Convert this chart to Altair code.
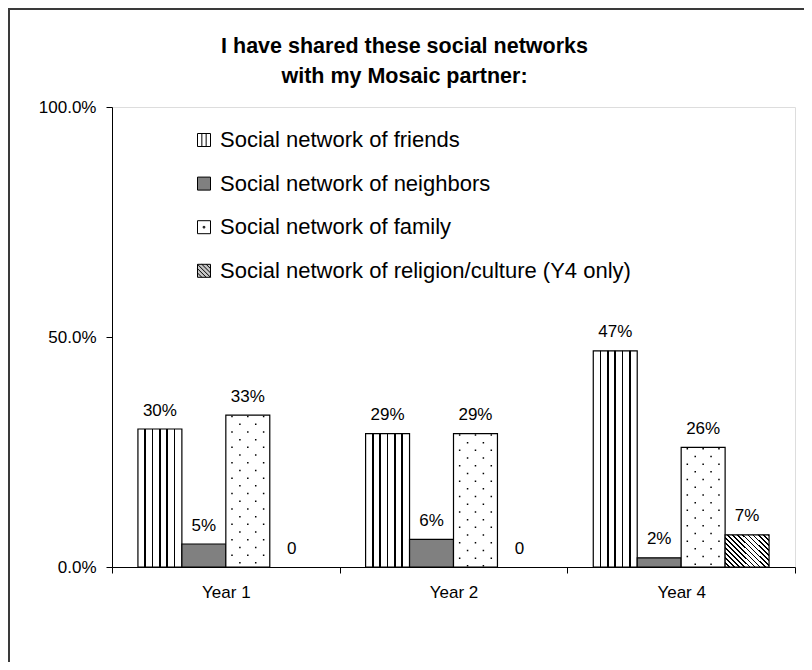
import altair as alt
import pandas as pd

years = ["Year 1", "Year 2", "Year 4"]
series = [
    "Social network of friends",
    "Social network of neighbors",
    "Social network of family",
    "Social network of religion/culture (Y4 only)",
]
friends = [0.30, 0.29, 0.47]
neighbors = [0.05, 0.06, 0.02]
family = [0.33, 0.29, 0.26]
religion = [0.0, 0.0, 0.07]
y_ticks = [0, 0.5, 1.0]
title_lines = ["I have shared these social networks", "with my Mosaic partner:"]

rows = []
for s, vals in zip(series, [friends, neighbors, family, religion]):
    for yr, v in zip(years, vals):
        rows.append({"year": yr, "series": s, "value": v})
df = pd.DataFrame(rows)

FONT = "Liberation Sans"
W, H = 683, 460
PAD_OUT = 0.59  # outer padding of the series sub-bands


def stripe_stops(n_lines, half):
    stops = [alt.GradientStop(color="white", offset=0)]
    for i in range(1, n_lines + 1):
        p = i / (n_lines + 1)
        stops += [
            alt.GradientStop(color="white", offset=p - half),
            alt.GradientStop(color="black", offset=p - half),
            alt.GradientStop(color="black", offset=p + half),
            alt.GradientStop(color="white", offset=p + half),
        ]
    stops.append(alt.GradientStop(color="white", offset=1))
    return stops


def hatch_stops(n, frac):
    stops = []
    per = 1.0 / n
    for i in range(n):
        a = i * per
        stops += [
            alt.GradientStop(color="white", offset=a),
            alt.GradientStop(color="white", offset=a + per * (1 - frac)),
            alt.GradientStop(color="black", offset=a + per * (1 - frac)),
            alt.GradientStop(color="black", offset=a + per),
        ]
    return stops


stripes = alt.LinearGradient(gradient="linear", stops=stripe_stops(5, 0.018), x1=0, y1=0, x2=1, y2=0)
hatch = alt.LinearGradient(gradient="linear", stops=hatch_stops(15, 0.33), x1=0, y1=1, x2=1.12, y2=0.16)

x_scale = alt.Scale(domain=years, paddingInner=0, paddingOuter=0)
x_axis = alt.Axis(
    title=None, labelAngle=0, labelFontSize=17, labelFont=FONT, labelColor="black",
    tickBand="extent", tickSize=6, tickColor="black", domainColor="black",
    labelPadding=11, grid=False,
)
x_enc = alt.X("year:N", sort=years, scale=x_scale, axis=x_axis)
off_scale = alt.Scale(domain=series, paddingInner=0, paddingOuter=PAD_OUT)
xo_enc = alt.XOffset("series:N", sort=series, scale=off_scale)
y_enc = alt.Y(
    "value:Q",
    scale=alt.Scale(domain=[0, 1]),
    axis=alt.Axis(
        title=None, values=y_ticks, format=".1%", labelFontSize=17, labelFont=FONT,
        labelColor="black", tickSize=6, tickColor="black", domainColor="black",
        labelPadding=10, grid=False,
    ),
)

base = alt.Chart(df).encode(x=x_enc, xOffset=xo_enc, y=y_enc)

bar_friends = base.transform_filter(alt.datum.series == series[0]).mark_bar(
    fill=stripes, stroke="black", strokeWidth=1.2)
bar_neigh = base.transform_filter(alt.datum.series == series[1]).mark_bar(
    fill="#808080", stroke="black", strokeWidth=1.2)
bar_family = base.transform_filter(alt.datum.series == series[2]).mark_bar(
    fill="white", stroke="black", strokeWidth=1.2)
bar_rel = base.transform_filter(
    (alt.datum.series == series[3]) & (alt.datum.value > 0)).mark_bar(
    fill=hatch, stroke="black", strokeWidth=1.2)

# dotted fill of the family bars: dashed vertical rules at fractions of the family slot
n_slots = len(series) + 2 * PAD_OUT
fam_idx = 2
dot_layers = []
for frac, doff in [(0.14, 14.8), (0.32, 7.1), (0.5, 14.8), (0.68, 7.1), (0.86, 14.8)]:
    bp = (PAD_OUT + fam_idx + frac) / n_slots
    dot_layers.append(
        alt.Chart(df)
        .transform_filter(alt.datum.series == series[2])
        .mark_rule(color="black", strokeWidth=1.5, strokeDash=[1.5, 13.9], strokeDashOffset=doff)
        .encode(
            x=alt.X("year:N", sort=years, scale=x_scale, axis=x_axis, bandPosition=bp),
            y=y_enc,
            y2=alt.datum(0),
        )
    )

labels = base.transform_calculate(
    label="datum.value == 0 ? '0' : format(datum.value, '.0%')"
).mark_text(baseline="alphabetic", dy=-13.5, fontSize=17, font=FONT, color="black").encode(
    text="label:N")

leg = alt.Legend(
    title=None, orient="none", legendX=81, legendY=22, symbolSize=169, symbolStrokeWidth=1,
    symbolOpacity=1, labelFontSize=22, labelFont=FONT,
    labelColor="black", labelOffset=5, rowPadding=21.6, labelLimit=800, padding=0,
)
paths = [
    "M-1,-1H1V1H-1Z M-0.33,-1V1 M0.33,-1V1",
    "M-1,-1H1V1H-1Z",
    "M-1,-1H1V1H-1Z M-0.12,-0.12H0.12V0.12H-0.12Z",
    "M-1,-1H1V1H-1Z M-1,-1L1,1 M-0.33,-1L1,0.33 M0.33,-1L1,-0.33 M-1,-0.33L0.33,1 M-1,0.33L-0.33,1",
]
legend_layer = base.mark_point(filled=True, opacity=0, strokeWidth=1).encode(
    fill=alt.Fill("series:N", sort=series,
                  scale=alt.Scale(domain=series, range=["white", "#808080", "white", "#c8c8c8"]),
                  legend=leg),
    stroke=alt.Stroke("series:N", sort=series,
                      scale=alt.Scale(domain=series, range=["black", "black", "black", "black"]),
                      legend=leg),
    shape=alt.Shape("series:N", sort=series, scale=alt.Scale(domain=series, range=paths), legend=leg),
)

frame_df = pd.DataFrame({"k": [0]})
frame_top = alt.Chart(frame_df).mark_rule(color="#3a3a3a", strokeWidth=2).encode(
    x=alt.value(-103), x2=alt.value(W + 9), y=alt.value(-98))
frame_left = alt.Chart(frame_df).mark_rule(color="#3a3a3a", strokeWidth=2).encode(
    x=alt.value(-103), y=alt.value(-99), y2=alt.value(H + 95))

chart = alt.layer(
    frame_top, frame_left, bar_friends, bar_neigh, bar_family, bar_rel, *dot_layers, labels, legend_layer
).properties(
    width=W,
    height=H,
    autosize=alt.AutoSizeParams(type="none"),
    padding={"left": 104, "top": 99, "right": 9, "bottom": 95},
    title=alt.Title(
        text=title_lines, font=FONT, fontSize=21.5, fontWeight="bold", color="black",
        anchor="middle", frame="group", dx=-49, offset=-80, lineHeight=30,
    ),
).configure_view(stroke=None).configure(background="white")

chart.save("out.html", embed_options={"renderer": "svg", "actions": False})
